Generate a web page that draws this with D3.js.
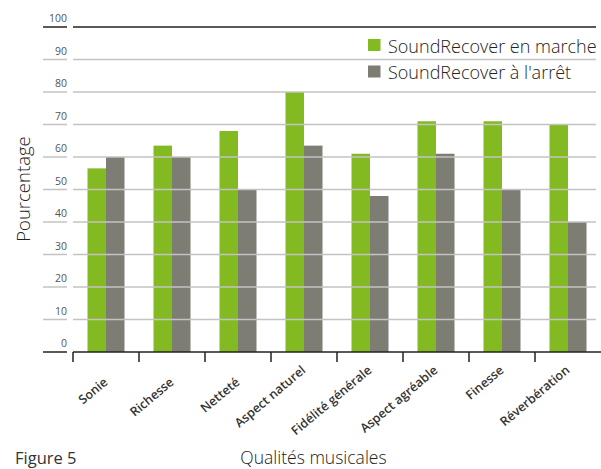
<!DOCTYPE html>
<html><head><meta charset="utf-8">
<script src="https://cdn.jsdelivr.net/npm/d3@7"></script>
<style>
html,body{margin:0;padding:0;background:#fff;}
svg{display:block;font-family:"Open Sans",sans-serif;}
</style></head>
<body><svg id="c" width="601" height="469"></svg>
<script>
const categories = ["Sonie","Richesse","Netteté","Aspect naturel","Fidélité générale","Aspect agréable","Finesse","Réverbération"];
const seriesNames = ["SoundRecover en marche","SoundRecover à l'arrêt"];
const valuesOn  = [56.5, 63.5, 68, 80, 61, 71, 71, 70];
const valuesOff = [60, 60, 50, 63.5, 48, 61, 50, 40];
const yTicks = [0,10,20,30,40,50,60,70,80,90,100];
const colors = ["#84ba21","#7e7d74"];
// vertical nudge of each category label (layout, not data)
const labelDrop = [12,12,12,0,0,0,0,0];

const svg = d3.select("#c");
const y = d3.scaleLinear().domain([0,100]).range([352,27]);
const x = d3.scaleBand().domain(categories).range([73,601]).padding(0);
const sub = d3.scaleBand().domain([0,1]).range([0,37]);
const off = (x.bandwidth()-37)/2;

// bars
const series = [valuesOn, valuesOff];
series.forEach((vals,si)=>{
  svg.append("g").selectAll("rect").data(vals).join("rect")
    .attr("x",(d,i)=>x(categories[i])+off+sub(si))
    .attr("width",sub.bandwidth())
    .attr("y",d=>y(d))
    .attr("height",d=>y(0)-y(d))
    .attr("fill",colors[si]);
});

// gridlines (drawn over bars)
const g = svg.append("g");
yTicks.forEach(t=>{
  const dark = (t===100||t===0);
  const col = dark ? "#222" : "#c3c3c3";
  g.append("line").attr("x1",43).attr("x2",67).attr("y1",y(t)).attr("y2",y(t))
    .attr("stroke",col).attr("stroke-width",1.5);
  if(t!==0){
    g.append("line").attr("x1",73).attr("x2",596).attr("y1",y(t)).attr("y2",y(t))
      .attr("stroke",col).attr("stroke-width",1.5);
  }
  g.append("text").attr("x",67).attr("y",y(t)-5).attr("text-anchor","end")
    .attr("font-size",10.5).attr("fill","#555").text(t);
});

// x axis
svg.append("line").attr("x1",73).attr("x2",601).attr("y1",352).attr("y2",352)
  .attr("stroke","#222").attr("stroke-width",1.5);
categories.forEach(c=>{
  svg.append("line").attr("x1",x(c)).attr("x2",x(c)).attr("y1",352).attr("y2",362)
    .attr("stroke","#222").attr("stroke-width",1.5);
});
svg.append("g").selectAll("text").data(categories).join("text")
  .attr("transform",(d,i)=>`translate(${x(d)+x.bandwidth()/2+2.5},${371.5+labelDrop[i]}) rotate(-40)`)
  .attr("text-anchor","end").attr("font-size",12.5).attr("font-weight",600)
  .attr("fill","#333").text(d=>d);

// legend
seriesNames.forEach((s,i)=>{
  svg.append("rect").attr("x",368).attr("y",39+i*26.5).attr("width",12.5).attr("height",12)
    .attr("fill",colors[i]);
  svg.append("text").attr("x",388).attr("y",52.5+i*26).attr("font-size",18)
    .attr("font-weight",300).attr("fill","#222").text(s);
});

// axis titles
svg.append("text").attr("transform","translate(30,189) rotate(-90)")
  .attr("text-anchor","middle").attr("font-size",18.5).attr("font-weight",300)
  .attr("fill","#222").text("Pourcentage");
svg.append("text").attr("x",313.5).attr("y",463.5).attr("text-anchor","middle")
  .attr("font-size",17.5).attr("font-weight",300).attr("fill","#222").text("Qualités musicales");
svg.append("text").attr("x",15).attr("y",464).attr("font-size",16.5)
  .attr("font-weight",500).attr("fill","#333").text("Figure 5");
</script></body></html>
